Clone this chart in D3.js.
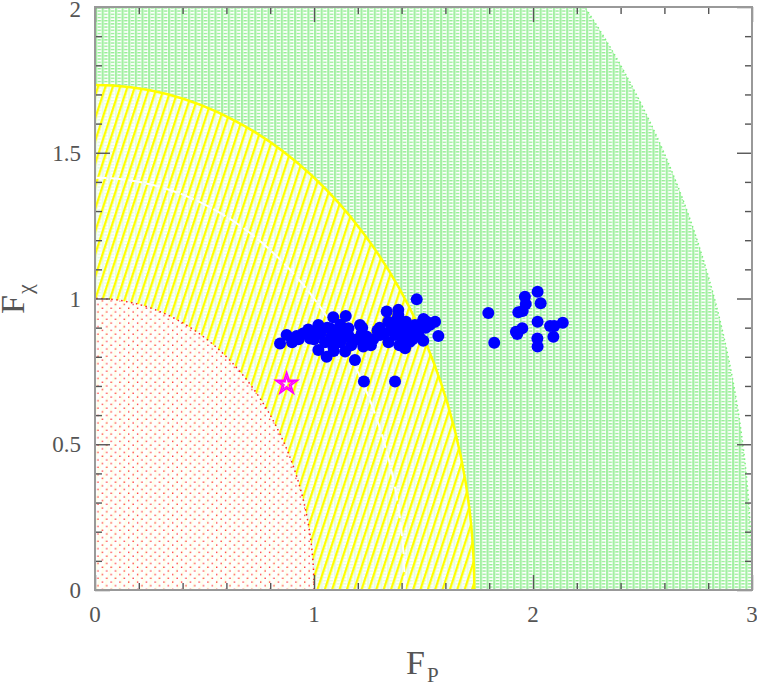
<!DOCTYPE html>
<html>
    <head>
        <title>F chi vs F P</title>
        <meta charset="utf-8">
        <script src="https://d3js.org/d3.v7.min.js"></script>
        <style>
            body { margin: 0; background: #fff; }
        </style>
    </head>
    <body>
        <div id="container"></div>
        <script>
            // Data
            const xTicks = [0, 1, 2, 3]
            const yTicks = [0, 0.5, 1, 1.5, 2]
            const yTickLabels = ["0", "0.5", "1", "1.5", "2"]
            const regionRadii = [3, Math.sqrt(3), 1]
            const innerArcRadius = Math.sqrt(2)

            // main clump
            const clusterX = [1.088, 1.145, 0.845, 0.875, 0.921, 0.974, 1.020, 0.982, 1.020, 1.058,
                1.073, 1.096, 1.088, 1.142, 1.157, 1.187, 1.187, 1.218, 1.228, 1.469,
                1.332, 1.385, 1.339, 1.385, 1.210, 1.553, 1.568, 1.499, 1.438, 1.416,
                1.370, 1.301, 1.256, 1.225, 1.370, 1.461, 1.492, 1.515, 1.431, 1.400,
                0.95, 1.00, 1.03, 1.05, 1.06, 1.11, 1.12, 1.14, 1.17, 1.20,
                1.24, 1.27, 1.29, 1.32, 1.35, 1.36, 1.40, 1.42, 1.44, 1.47,
                1.48, 1.51, 1.53, 1.34, 1.39, 1.12, 1.00, 0.93, 1.08, 1.16,
                1.23, 1.45, 1.38, 1.30, 1.09, 1.22, 0.90, 1.26, 1.41, 1.50]
            const clusterY = [0.936, 0.940, 0.846, 0.875, 0.871, 0.894, 0.909, 0.863, 0.823, 0.800,
                0.898, 0.869, 0.835, 0.818, 0.898, 0.858, 0.789, 0.881, 0.715, 0.997,
                0.955, 0.961, 0.920, 0.943, 0.909, 0.920, 0.871, 0.855, 0.852, 0.829,
                0.875, 0.875, 0.858, 0.835, 0.715, 0.909, 0.915, 0.920, 0.898, 0.886,
                0.88, 0.86, 0.88, 0.85, 0.90, 0.89, 0.85, 0.87, 0.84, 0.86,
                0.87, 0.86, 0.89, 0.88, 0.89, 0.91, 0.90, 0.92, 0.88, 0.89,
                0.87, 0.90, 0.91, 0.85, 0.84, 0.91, 0.88, 0.86, 0.87, 0.87,
                0.85, 0.86, 0.93, 0.90, 0.82, 0.90, 0.85, 0.84, 0.87, 0.93]

            // group on the right
            const groupX = [2.021, 1.963, 1.967, 2.035, 1.796, 1.933, 1.953, 2.021, 2.136, 2.078,
                2.097, 1.951, 1.922, 1.928, 2.020, 2.093, 2.021, 1.823]
            const groupY = [1.023, 1.006, 0.981, 0.984, 0.950, 0.953, 0.957, 0.920, 0.917, 0.906,
                0.906, 0.898, 0.886, 0.878, 0.863, 0.869, 0.835, 0.848]

            const starPoint = [0.875, 0.707]

            // Variables
            const w = 757
            const h = 686
            const plotLeft = 95
            const plotRight = 752
            const plotTop = 7
            const plotBottom = 590
            const serif = "'Liberation Serif', 'DejaVu Serif', 'Times New Roman', serif"

            const xScale = d3.scaleLinear().domain([0, 3]).range([plotLeft, plotRight])
            const yScale = d3.scaleLinear().domain([0, 2]).range([plotBottom, plotTop])

            const svg = d3.select("#container")
                .append("svg")
                .attr("width", w)
                .attr("height", h)

            const defs = svg.append("defs")

            defs.append("clipPath")
                .attr("id", "plot_clip")
                .append("rect")
                .attr("x", plotLeft)
                .attr("y", plotTop)
                .attr("width", plotRight - plotLeft)
                .attr("height", plotBottom - plotTop)

            // Green grid texture
            const pw = (xScale(1) - xScale(0)) / 33
            const green = defs.append("pattern")
                .attr("id", "green_fill")
                .attr("patternUnits", "userSpaceOnUse")
                .attr("x", plotLeft)
                .attr("width", pw)
                .attr("height", 3.2)
            green.append("rect").attr("width", pw).attr("height", 3.2).attr("fill", "#fff")
            green.append("rect").attr("x", 0).attr("width", 2.2).attr("height", 3.2).attr("fill", "#a3f0a3")
            green.append("rect").attr("x", 2.6).attr("y", 1).attr("width", pw - 3.2).attr("height", 1).attr("fill", "#6de86d")

            // Yellow hatch
            const yellow = defs.append("pattern")
                .attr("id", "yellow_fill")
                .attr("patternUnits", "userSpaceOnUse")
                .attr("width", 7)
                .attr("height", 20)
                .attr("patternTransform", "rotate(18)")
            yellow.append("rect").attr("width", 2.3).attr("height", 20).attr("fill", "#ffff00")

            // Red dots
            const red = defs.append("pattern")
                .attr("id", "red_fill")
                .attr("patternUnits", "userSpaceOnUse")
                .attr("width", 8.8)
                .attr("height", 7.4)
            red.append("rect").attr("x", 0.5).attr("y", 0.5).attr("width", 1.3).attr("height", 1.3).attr("fill", "#ff2020")
            red.append("rect").attr("x", 4.9).attr("y", 4.2).attr("width", 1.3).attr("height", 1.3).attr("fill", "#ff2020")

            // quarter ellipse from the origin
            const quarter = r => `M${xScale(0)},${yScale(0)} L${xScale(r)},${yScale(0)} ` +
                `A${xScale(r) - xScale(0)},${yScale(0) - yScale(r)} 0 0 0 ${xScale(0)},${yScale(r)} Z`
            const arcOnly = r => `M${xScale(r)},${yScale(0)} ` +
                `A${xScale(r) - xScale(0)},${yScale(0) - yScale(r)} 0 0 0 ${xScale(0)},${yScale(r)}`

            const regions = svg.append("g").attr("clip-path", "url(#plot_clip)")

            // r = 3
            regions.append("path").attr("d", quarter(regionRadii[0])).attr("fill", "url(#green_fill)")
            regions.append("path").attr("d", arcOnly(regionRadii[0]))
                .attr("fill", "none").attr("stroke", "#7cf07c").attr("stroke-width", 1.5)
                .attr("stroke-dasharray", "1.5,3")

            // r = sqrt 3
            regions.append("path").attr("d", quarter(regionRadii[1])).attr("fill", "#fff").attr("fill-opacity", 0.75)
            regions.append("path").attr("d", quarter(regionRadii[1])).attr("fill", "url(#yellow_fill)")
            regions.append("path").attr("d", arcOnly(innerArcRadius))
                .attr("fill", "none").attr("stroke", "#fff").attr("stroke-width", 2)
                .attr("stroke-dasharray", "14,4")
            regions.append("path").attr("d", arcOnly(regionRadii[1]))
                .attr("fill", "none").attr("stroke", "#ffff00").attr("stroke-width", 2.5)

            // r = 1
            regions.append("path").attr("d", quarter(regionRadii[2])).attr("fill", "#fff").attr("fill-opacity", 0.92)
            regions.append("path").attr("d", quarter(regionRadii[2])).attr("fill", "url(#red_fill)")
            regions.append("path").attr("d", arcOnly(regionRadii[2]))
                .attr("fill", "none").attr("stroke", "#ff2020").attr("stroke-width", 1.5)
                .attr("stroke-dasharray", "1.5,3.5")

            // Points
            const points = clusterX.map((x, i) => [x, clusterY[i]])
                .concat(groupX.map((x, i) => [x, groupY[i]]))

            svg.append("g")
                .selectAll("circle")
                .data(points)
                .enter()
                .append("circle")
                .attr("cx", d => xScale(d[0]))
                .attr("cy", d => yScale(d[1]))
                .attr("r", 6)
                .attr("fill", "#0000ff")

            // Star
            const star = svg.append("g")
                .attr("transform", `translate(${xScale(starPoint[0])},${yScale(starPoint[1])})`)
            star.append("path").attr("d", d3.symbol(d3.symbolStar, 150)())
                .attr("fill", "none").attr("stroke", "#ff00ff").attr("stroke-width", 1.6)
            star.append("path").attr("d", d3.symbol(d3.symbolStar, 55)())
                .attr("fill", "none").attr("stroke", "#ff00ff").attr("stroke-width", 1.3)

            // Axes: inward ticks on every side
            const xMinor = d3.range(0, 15).map(i => i * 0.2).filter(v => Math.abs(v - Math.round(v)) > 0.01)
            const yMinor = d3.range(0, 20).map(i => i * 0.1).filter(v => Math.abs(v * 2 - Math.round(v * 2)) > 0.01)

            const tickStyle = g => {
                g.select(".domain").remove()
                g.selectAll("text").remove()
                g.selectAll("line").attr("stroke", "#555").attr("stroke-width", 1.4)
            }

            svg.append("g").attr("transform", `translate(0,${plotBottom})`)
                .call(d3.axisBottom(xScale).tickValues(xTicks).tickSize(-15)).call(tickStyle)
            svg.append("g").attr("transform", `translate(0,${plotBottom})`)
                .call(d3.axisBottom(xScale).tickValues(xMinor).tickSize(-7)).call(tickStyle)
            svg.append("g").attr("transform", `translate(0,${plotTop})`)
                .call(d3.axisTop(xScale).tickValues(xTicks).tickSize(-15)).call(tickStyle)
            svg.append("g").attr("transform", `translate(0,${plotTop})`)
                .call(d3.axisTop(xScale).tickValues(xMinor).tickSize(-7)).call(tickStyle)
            svg.append("g").attr("transform", `translate(${plotLeft},0)`)
                .call(d3.axisLeft(yScale).tickValues(yTicks).tickSize(-15)).call(tickStyle)
            svg.append("g").attr("transform", `translate(${plotLeft},0)`)
                .call(d3.axisLeft(yScale).tickValues(yMinor).tickSize(-7)).call(tickStyle)
            svg.append("g").attr("transform", `translate(${plotRight},0)`)
                .call(d3.axisRight(yScale).tickValues(yTicks).tickSize(-15)).call(tickStyle)
            svg.append("g").attr("transform", `translate(${plotRight},0)`)
                .call(d3.axisRight(yScale).tickValues(yMinor).tickSize(-7)).call(tickStyle)

            // Frame
            svg.append("rect")
                .attr("x", plotLeft)
                .attr("y", plotTop)
                .attr("width", plotRight - plotLeft)
                .attr("height", plotBottom - plotTop)
                .attr("fill", "none")
                .attr("stroke", "#999")
                .attr("stroke-width", 2)

            // Tick labels
            svg.selectAll(".x_label")
                .data(xTicks)
                .enter()
                .append("text")
                .attr("font-family", serif)
                .attr("font-size", 23)
                .attr("fill", "#555")
                .attr("x", d => xScale(d))
                .attr("y", plotBottom + 32)
                .attr("text-anchor", "middle")
                .text(d => d)

            svg.selectAll(".y_label")
                .data(yTicks)
                .enter()
                .append("text")
                .attr("font-family", serif)
                .attr("font-size", 23)
                .attr("fill", "#555")
                .attr("x", plotLeft - 14)
                .attr("y", (d, i) => i === yTicks.length - 1 ? yScale(d) + 10 : yScale(d) + 8)
                .attr("text-anchor", "end")
                .text((d, i) => yTickLabels[i])

            // Axis titles
            const xTitle = svg.append("text")
                .attr("font-family", serif)
                .attr("fill", "#555")
                .attr("x", 406)
                .attr("y", 674)
                .attr("font-size", 34)
            xTitle.append("tspan").text("F")
            xTitle.append("tspan").attr("font-size", 21).attr("dy", 8).attr("dx", 2).text("P")

            const yTitle = svg.append("text")
                .attr("font-family", serif)
                .attr("fill", "#555")
                .attr("transform", "translate(24,314) rotate(-90)")
                .attr("font-size", 34)
            yTitle.append("tspan").text("F")
            yTitle.append("tspan").attr("font-size", 22).attr("dy", 8).attr("dx", 1).text("χ")
        </script>
    </body>
</html>
